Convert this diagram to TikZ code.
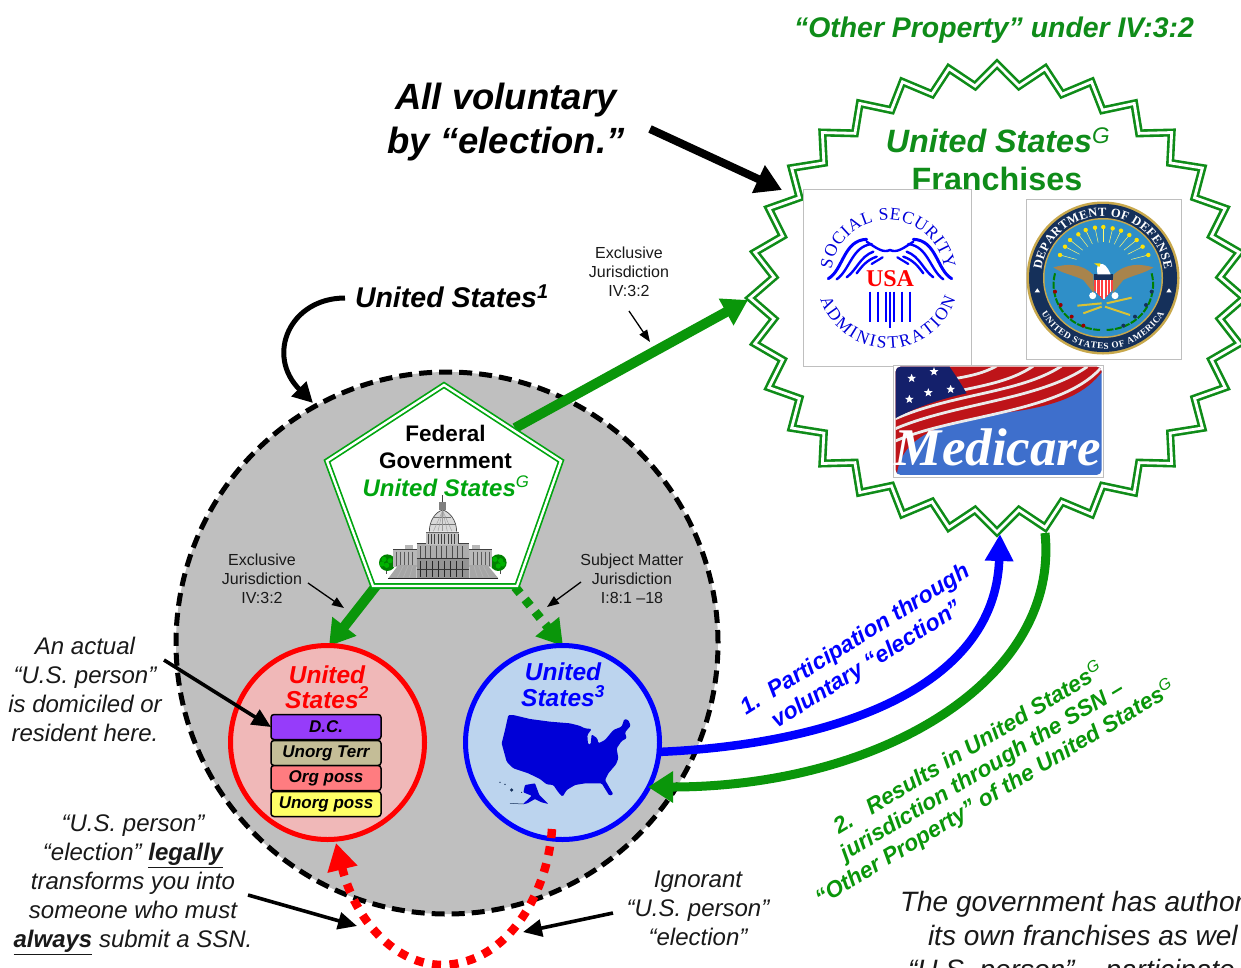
\documentclass[tikz,border=0pt]{standalone}
\usepackage{fontspec}
\setmainfont{Liberation Sans}
\newfontfamily\serifx{Liberation Serif}
\usetikzlibrary{arrows.meta,shapes.geometric,decorations.text}
\definecolor{gA}{RGB}{10,150,10}
\definecolor{gB}{RGB}{15,140,25}
\definecolor{gC}{RGB}{0,165,15}
\definecolor{bigg}{RGB}{191,191,191}
\definecolor{pinkf}{RGB}{240,184,184}
\definecolor{bluef}{RGB}{188,212,238}
\definecolor{inkk}{RGB}{25,25,25}
\definecolor{navyd}{RGB}{21,48,90}
\definecolor{seal}{RGB}{47,143,200}
\definecolor{goldd}{RGB}{200,168,76}
\definecolor{brownd}{RGB}{168,132,76}
\definecolor{medblue}{RGB}{62,111,204}
\definecolor{medred}{RGB}{190,20,25}
\definecolor{mednavy}{RGB}{20,32,107}
\definecolor{mapb}{RGB}{0,0,215}
\definecolor{stA}{RGB}{150,60,250}
\definecolor{stB}{RGB}{196,189,151}
\definecolor{stC}{RGB}{255,124,128}
\definecolor{stD}{RGB}{255,255,102}
\newcommand{\fsz}[2]{\fontsize{#1pt}{#2pt}\selectfont}
\newcommand{\supG}{\textsuperscript{\mdseries G}}
\newcommand{\arcseg}[5]{.. controls ({#1+#3*cos(#4)-(4/3*tan((#5-#4)/4))*#3*sin(#4)},{#2-#3*sin(#4)-(4/3*tan((#5-#4)/4))*#3*cos(#4)}) and ({#1+#3*cos(#5)+(4/3*tan((#5-#4)/4))*#3*sin(#5)},{#2-#3*sin(#5)+(4/3*tan((#5-#4)/4))*#3*cos(#5)}) .. ({#1+#3*cos(#5)},{#2-#3*sin(#5)})}
\tikzset{
  lbl/.style={inner sep=0pt,outer sep=0pt,align=center},
  smalltxt/.style={lbl,text=inkk,font=\fsz{16}{19}},
  ital/.style={lbl,text=inkk,font=\fsz{24}{29}\itshape},
  stackb/.style={draw=black,line width=1.5pt,rounded corners=3pt,minimum width=110pt,inner sep=0pt,outer sep=0pt,font=\fsz{17}{20}\bfseries\itshape},
  thin arrow/.style={black,line width=1.3pt,-{Triangle[width=9pt,length=12pt]}},
  mid arrow/.style={black,line width=3.6pt,-{Triangle[width=17pt,length=19pt]}},
  grn arrow/.style={gA,line width=10pt,-{Triangle[width=29pt,length=25pt]}},
  medstar/.style={star,star points=5,star point ratio=2.3,fill=white,minimum size=9pt,inner sep=0pt},
  dbl/.style={draw=#1,double=white,double distance=2.8pt,line width=2.6pt,miter limit=20},
  ssaarc/.style={decorate,decoration={text along path,text color=blue!85!black,text align={fit to path}}},
}
\begin{document}
\begin{tikzpicture}[x=1pt,y=-1pt]
\path[use as bounding box,clip] (0,0) rectangle (1241,967);
\fill[white] (0,0) rectangle (1241,967);

%% coordinates for connectors
\coordinate (pA) at (444,385);
\coordinate (pB) at (561,461);
\coordinate (pC) at (517,586);
\coordinate (pD) at (373,586);
\coordinate (pE) at (327,461);
\coordinate (penNE) at (515,428);
\coordinate (penSW) at (376,586);
\coordinate (penSE) at (515,587);
\coordinate (starW) at (748,300);
\coordinate (starNW) at (782,190);
\coordinate (starS1) at (1000,534);
\coordinate (starS2) at (1045,533);
\coordinate (redtop) at (329,646);
\coordinate (bluetop) at (563,646);
\coordinate (blueE) at (657,752);
\coordinate (blueEs) at (648,787);
\coordinate (blueS) at (552,829);
\coordinate (redS) at (336,843);
\coordinate (bigNW) at (313,403);
\coordinate (dcW) at (271,727);
\coordinate (voltail) at (650,129);
\coordinate (ustail) at (345,298);
\coordinate (exA) at (629,311);
\coordinate (exAt) at (650,342);
\coordinate (exB) at (308,583);
\coordinate (exBt) at (344,608);
\coordinate (exC) at (581,582);
\coordinate (exCt) at (547,607);
\coordinate (actT) at (164,660);
\coordinate (legT) at (248,895);
\coordinate (legH) at (357,926);
\coordinate (ignT) at (613,913);
\coordinate (ignH) at (523,932);
\coordinate (redbot) at (443,965);

%% big circle
\node[circle,minimum size=542pt,inner sep=0pt,outer sep=0pt,fill=bigg,draw=black,line width=5pt,dash pattern=on 13pt off 7.03pt] (big) at (447,643) {};

%% franchises star
\draw[dbl=gB,fill=white] (997+247,298) foreach \i in {1,...,63} { -- ({997+(mod(\i,2)==0?247:224)*cos(\i*5.625)},{298+(mod(\i,2)==0?234:213)*sin(\i*5.625)}) } -- cycle;

\node[lbl,text=gB,font=\fsz{32.3}{36}\bfseries\itshape] (fr1) at (998,140) {United States\supG};
\node[lbl,text=gB,font=\fsz{32.3}{36}\bfseries] (fr2) at (997,179) {Franchises};

%% SSA logo
\node[draw=black!25,fill=white,line width=.8pt,minimum width=168pt,minimum height=177pt,inner sep=0pt,outer sep=0pt] (ssa) at (887,277.5) {};
\path[ssaarc,decoration={text={|\serifx\fsz{17.5}{18}|SOCIAL SECURITY}}] ({888+57*cos(172)},{277-57*sin(172)}) \arcseg{888}{277}{57}{172}{90} \arcseg{888}{277}{57}{90}{8};
\path[ssaarc,decoration={text={|\serifx\fsz{17.5}{18}|ADMINISTRATION}}] ({888+71*cos(198)},{277-71*sin(198)}) \arcseg{888}{277}{71}{198}{270} \arcseg{888}{277}{71}{270}{342};
\begin{scope}[shift={(740,40)},x=0.3333pt,y=-0.3333pt]
 \foreach \sg in {1,-1}{
  \begin{scope}[shift={(450,0)},xscale=\sg,blue,line cap=round]
   \draw[line width=3pt] (-185,716) .. controls (-140,690) and (-140,600) .. (-70,598);
   \draw[line width=2.4pt] (-160,718) .. controls (-120,690) and (-115,620) .. (-55,612);
   \draw[line width=2.4pt] (-130,712) .. controls (-100,690) and (-90,650) .. (-50,635);
   \draw[line width=2.4pt] (-100,700) .. controls (-85,680) and (-70,660) .. (-40,650);
   \draw[line width=2.4pt] (-70,605) .. controls (-40,625) and (-20,640) .. (0,630);
   \draw[line width=2.2pt] (-55,672) -- (-22,652);
  \end{scope}
  \foreach \d in {0,24,48}{\draw[blue,line width=2.6pt] ({450+\sg*(12+\d)},755) -- ({450+\sg*(12+\d)},845);}
 }
 \draw[blue,line width=2.6pt] (450,755) -- (450,865);
\end{scope}
\node[lbl,text=red,font=\serifx\fsz{24}{24}\bfseries] (usa) at (890,279) {USA};

%% DoD seal
\node[draw=black!25,fill=white,line width=.8pt,minimum width=155pt,minimum height=160pt,inner sep=0pt,outer sep=0pt] (dod) at (1103.5,279) {};
\fill[goldd] (1103,278) circle[radius=76.5pt];
\fill[navyd] (1103,278) circle[radius=74pt];
\fill[goldd] (1103,278) circle[radius=60pt];
\fill[seal] (1103,278) circle[radius=58.5pt];
\path[decorate,decoration={text along path,text color=white,text align={fit to path},text={|\serifx\fsz{12.5}{13}\bfseries|DEPARTMENT OF DEFENSE}}] ({1103+62*cos(172)},{278-62*sin(172)}) \arcseg{1103}{278}{62}{172}{90} \arcseg{1103}{278}{62}{90}{8};
\path[decorate,decoration={text along path,text color=white,text align={fit to path},text={|\serifx\fsz{9.2}{10}\bfseries|UNITED STATES OF AMERICA}}] ({1103+71*cos(210)},{278-71*sin(210)}) \arcseg{1103}{278}{71}{210}{270} \arcseg{1103}{278}{71}{270}{330};
\begin{scope}[shift={(1020,195)},x=0.3333pt,y=-0.3333pt]
 \foreach \sx/\sy in {120/180,135/155,150/135,175/118,197/105,225/98,250/96,278/100,303/107,328/120,350/135,368/155,385/180}{
  \draw[yellow!55!white,line width=.5pt] (\sx,\sy) -- ({250+.62*(\sx-250)},{215+.62*(\sy-215)});
  \fill[yellow!85!orange] (\sx,\sy) circle[radius=2.2pt];
 }
 \fill[white] (52,280) -- (60,292) -- (44,292) -- cycle;
 \fill[white] (447,280) -- (455,292) -- (439,292) -- cycle;
 \foreach \sg in {1,-1}{
  \begin{scope}[shift={(250,0)},xscale=\sg]
   \fill[brownd] (-30,240) -- (-28,295) -- (-60,255) .. controls (-90,240) and (-125,235) .. (-150,217) .. controls (-115,208) and (-70,200) .. (-30,240) -- cycle;
   \draw[green!50!black,line width=2pt,dash pattern=on 7pt off 1.5pt] (-145,235) .. controls (-165,310) and (-115,400) .. (-10,405);
  \end{scope}
 }
 \foreach \a/\b in {105/290,122/330,155/365,190/392}{\fill[red!60!black] (\a,\b) circle[radius=2pt];}
 \foreach \a/\b in {395/290,378/330,345/365,310/392}{\fill[navyd] (\a,\b) circle[radius=2pt];}
 \fill[red!75!white] (222,255) rectangle (278,285);
 \fill[red!75!white] (222,285) -- (278,285) -- (250,315) -- cycle;
 \foreach \q in {230,241,252,263,272}{\draw[white,line width=1.2pt] (\q,256) -- (\q,{\q<250?285+(\q-222):285+(278-\q)});}
 \fill[navyd] (222,238) rectangle (278,256);
 \fill[white] (232,238) .. controls (232,222) and (228,215) .. (238,208) .. controls (252,202) and (262,215) .. (272,238) -- cycle;
 \fill[yellow!80!orange] (222,205) -- (242,205) -- (238,216) -- cycle;
 \fill[white] (218,302) circle[radius=3.5pt];
 \fill[white] (285,302) circle[radius=3.5pt];
 \draw[goldd!70!yellow,line width=2pt] (172,332) -- (245,325);
 \draw[goldd!70!yellow,line width=2pt] (190,355) -- (245,335);
 \draw[goldd!70!yellow,line width=2pt] (255,335) -- (330,360);
 \draw[goldd!70!yellow,line width=2pt] (260,325) -- (335,308);
\end{scope}

%% Medicare card
\begin{scope}[shift={(740,40)},x=0.3333pt,y=-0.3333pt]
 \draw[black!25,fill=white,line width=.8pt] (460,975) rectangle (1090,1312);
 \begin{scope}
  \path[clip,rounded corners=5pt] (467,980) rectangle (1085,1305);
  \fill[medblue] (467,980) rectangle (1085,1305);
  \fill[medred] (460,975) -- (1090,975) -- (1090,990) .. controls (1040,1060) and (960,1095) .. (820,1115) .. controls (680,1135) and (480,1160) .. (470,1310) -- (460,1310) -- cycle;
  \draw[white!92!black,line width=2.8pt] (650,1015) .. controls (690,1008) and (730,1000) .. (770,978);
  \draw[white!92!black,line width=2.8pt] (670,1050) .. controls (740,1035) and (820,1020) .. (880,978);
  \draw[white!92!black,line width=2.8pt] (462,1138) .. controls (640,1060) and (840,1060) .. (965,978);
  \draw[white!92!black,line width=2.8pt] (462,1168) .. controls (640,1090) and (900,1080) .. (1042,980);
  \draw[white!92!black,line width=2.8pt] (462,1205) .. controls (640,1125) and (960,1120) .. (1082,985);
  \fill[mednavy] (460,975) -- (625,975) .. controls (650,1010) and (665,1035) .. (680,1060) .. controls (610,1075) and (530,1100) .. (460,1138) -- cycle;
  \foreach \sx/\sy [count=\n] in {515/1015,582/995,565/1058,632/1048,508/1078}{\node[medstar] (st\n) at (\sx,\sy) {};}
 \end{scope}
\end{scope}
\node[lbl,text=white,font=\serifx\fsz{53}{54}\bfseries\itshape] (med) at (998,447) {Medicare};

%% top labels
\node[lbl,text=gB,font=\fsz{28.4}{32}\bfseries\itshape] (other) at (994,30) {“Other Property” under IV:3:2};
\node[lbl,text=black,font=\fsz{36.5}{44}\bfseries\itshape] (allv) at (506,122) {All voluntary\\by “election.”};
\node[lbl,text=black,font=\fsz{28.5}{32}\bfseries\itshape,anchor=west] (us1) at (355,296) {United States\textsuperscript{1}};
\node[smalltxt] (ej1) at (629,272) {Exclusive\\Jurisdiction\\IV:3:2};
\node[smalltxt] (ej2) at (262,579) {Exclusive\\Jurisdiction\\IV:3:2};
\node[smalltxt] (sm) at (632,579) {Subject Matter\\Jurisdiction\\I:8:1 --18};

%% arrows out of the pentagon
\draw[grn arrow] (penNE) -- (starW);
\draw[grn arrow] (penSW) -- (redtop);
\draw[gA,line width=9pt,dash pattern=on 8pt off 8pt,-{Triangle[width=29pt,length=25pt]}] (penSE) -- (bluetop);

%% pentagon
\path[fill=white] (pA) -- (pB) -- (pC) -- (pD) -- (pE) -- cycle;
\draw[dbl=gC,line width=1.7pt,double distance=2.4pt] (pA) -- (pB) -- (pC) -- (pD) -- (pE) -- cycle;
\node[lbl,text=black,font=\fsz{22.5}{27}\bfseries] (fed) at (445.5,447) {Federal\\Government};
\node[lbl,text=gC,font=\fsz{24}{28}\bfseries\itshape] (fus) at (446,486.5) {United States\supG};

%% capitol
\begin{scope}[shift={(370,490)},x=0.3333pt,y=-0.3333pt]
 \draw[black!70,line width=.7pt] (48,235) -- (48,252) (392,235) -- (392,252);
 \fill[green!50!black] (52,218) circle[radius=8.3pt];
 \fill[green!50!black] (385,218) circle[radius=8.3pt];
 \foreach \a/\b in {42/208,60/212,50/226,36/222,375/208,392/212,385/228,398/222}{\fill[green!70!black] (\a,\b) circle[radius=2.6pt];}
 \fill[black!28] (70,178) rectangle (365,232);
 \fill[black!28] (105,165) rectangle (130,178);
 \fill[black!28] (305,165) rectangle (330,178);
 \fill[black!32] (140,160) rectangle (298,232);
 \foreach \q in {78,90,...,130,310,322,...,358}{\draw[black!65,line width=.7pt] (\q,185) -- (\q,228);}
 \foreach \q in {150,166,...,290}{\draw[black!70,line width=.8pt] (\q,168) -- (\q,205);}
 \draw[black!75,line width=.7pt] (70,178) -- (140,178) (140,160) -- (298,160) (298,178) -- (365,178);
 \fill[black!42] (140,206) rectangle (298,265);
 \draw[black!80,line width=.7pt] (140,206) -- (298,206);
 \foreach \q in {152,170,...,290}{\draw[black!85,line width=1pt] (\q,212) -- (\q,262);}
 \draw[black!80,line width=.8pt] (140,238) -- (298,238);
 \fill[black!35] (55,265) -- (85,225) -- (140,225) -- (140,265) -- cycle;
 \fill[black!35] (298,225) -- (352,225) -- (385,265) -- (298,265) -- cycle;
 \foreach \q in {0,1,2}{\draw[white!70!black,line width=.8pt] ({82+\q*18},262) -- ({100+\q*14},228);
   \draw[white!70!black,line width=.8pt] ({358-\q*18},262) -- ({340-\q*14},228);}
 \draw[black!85,line width=1pt] (55,266) -- (385,266);
 \fill[black!25] (168,130) rectangle (268,165);
 \foreach \q in {174,184,...,264}{\draw[black!75,line width=.7pt] (\q,133) -- (\q,162);}
 \fill[black!15] (178,125) .. controls (178,90) and (198,65) .. (218,60) .. controls (238,65) and (260,90) .. (260,125) -- cycle;
 \draw[black!70,line width=.7pt] (178,125) .. controls (178,90) and (198,65) .. (218,60) .. controls (238,65) and (260,90) .. (260,125);
 \draw[black!55,line width=.9pt] (182,102) -- (254,102) (192,82) -- (244,82);
 \draw[black!60,line width=.8pt] (168,128) -- (268,128);
 \foreach \q in {190,204,218,232,246}{\draw[black!40,line width=.4pt] (218,62) -- (\q,124);}
 \fill[black!50] (208,60) rectangle (228,35);
 \draw[black!75,line width=1.4pt] (218,36) -- (218,15);
\end{scope}

%% red circle
\node[circle,draw=red,fill=pinkf,line width=5pt,minimum size=194pt,inner sep=0pt,outer sep=0pt] (rc) at (327.5,742.5) {};
\node[lbl,text=red,font=\fsz{24.5}{24.5}\bfseries\itshape] (rct) at (327,687) {United\\States\textsuperscript{2}};
\node[stackb,fill=stA,minimum height=25pt] (s1) at (326,727) {D.C.};
\node[stackb,fill=stB,minimum height=25pt] (s2) at (326,753) {Unorg Terr};
\node[stackb,fill=stC,minimum height=25pt] (s3) at (326,778) {Org poss};
\node[stackb,fill=stD,minimum height=25pt] (s4) at (326,804) {Unorg poss};

%% blue circle
\node[circle,draw=blue,fill=bluef,line width=5pt,minimum size=194pt,inner sep=0pt,outer sep=0pt] (bc) at (562.5,742.5) {};
\node[lbl,text=blue,font=\fsz{24.5}{26}\bfseries\itshape] (bct) at (563,685) {United\\States\textsuperscript{3}};
\begin{scope}[shift={(490,705)},x=0.3333pt,y=-0.3333pt]
 \fill[mapb,rounded corners=1.2pt] (55,30) -- (70,30) -- (120,42) -- (180,50) -- (240,55) -- (268,62) -- (285,70) -- (305,72) -- (292,90) -- (294,118) -- (302,118) -- (305,88) -- (322,100) -- (325,115) -- (345,105) -- (370,75) -- (395,65) -- (403,42) -- (415,45) -- (422,62) -- (405,82) -- (410,100) -- (395,108) -- (380,130) -- (385,160) -- (378,178) -- (355,205) -- (345,225) -- (370,268) -- (358,272) -- (335,235) -- (285,235) -- (255,240) -- (230,255) -- (218,275) -- (205,262) -- (190,240) -- (170,238) -- (150,222) -- (115,205) -- (70,190) -- (50,170) -- (35,115) -- (45,75) -- cycle;
 \fill[mapb,rounded corners=.8pt] (105,240) -- (135,235) -- (148,270) -- (175,297) -- (155,292) -- (135,282) -- (112,295) -- (98,298) -- (112,285) -- (125,272) -- (100,262) -- cycle;
 \draw[navyd,line width=.5pt] (100,297) -- (60,295);
 \fill[navyd] (65,255) circle[radius=1.8pt] (45,238) circle[radius=.8pt] (30,232) circle[radius=.7pt] (95,262) circle[radius=.6pt];
\end{scope}

%% side labels
\node[ital] (act) at (85,689.5) {An actual\\“U.S. person”\\is domiciled or\\resident here.};
\node[ital] (per) at (133,885) {“U.S. person”\\“election” \underline{\textbf{legally}}\\transforms you into\\someone who must\\\underline{\textbf{always}} submit a SSN.};
\node[ital] (ign) at (698,908) {Ignorant\\“U.S. person”\\“election”};
\node[lbl,text=inkk,font=\fsz{28}{33.5}\itshape,anchor=north west] (gov1) at (900,891) {The government has author};
\node[lbl,text=inkk,font=\fsz{28}{33.5}\itshape,anchor=north west] (gov2) at (928,925) {its own franchises as wel};
\node[lbl,text=inkk,font=\fsz{28}{33.5}\itshape,anchor=north west] (gov3) at (908,959) {“U.S. person” -- participate};

%% rotated labels
\node[lbl,align=left,text=blue,font=\fsz{23}{27}\bfseries\itshape,rotate=32] (part) at (863,652) {1.\ \ Participation through\\\hspace*{19pt}voluntary “election”};
\node[lbl,text=gA,font=\fsz{22.7}{26}\bfseries\itshape,rotate=31] (res) at (982,771) {2.\ \ \ Results in United States\supG\\jurisdiction through the SSN --\\“Other Property” of the United States\supG};

%% arrows
\draw[black,line width=8pt,-{Triangle[width=29pt,length=26pt]}] (voltail) -- (starNW);
\draw[black,line width=5pt,-{Triangle[width=20pt,length=20pt]}] (ustail) .. controls (290,298) and (265,355) .. (bigNW);
\draw[thin arrow] (exA) -- (exAt);
\draw[thin arrow] (exB) -- (exBt);
\draw[thin arrow] (exC) -- (exCt);
\draw[blue,line width=8.5pt,-{Triangle[width=27pt,length=27pt]}] (blueE) .. controls (830,745) and (995,690) .. (starS1);
\draw[gA,line width=9pt,-{Triangle[width=30pt,length=25pt]}] (starS2) .. controls (1060,680) and (880,787) .. (blueEs);
\draw[red,line width=8.5pt,dash pattern=on 9pt off 8.5pt,-{Triangle[width=29pt,length=27pt]}] (blueS) .. controls (548,890) and (510,963) .. (redbot) .. controls (395,965) and (355,920) .. (redS);
\draw[mid arrow] (actT) -- (dcW);
\draw[mid arrow] (legT) -- (legH);
\draw[mid arrow] (ignT) -- (ignH);
\end{tikzpicture}
\end{document}
